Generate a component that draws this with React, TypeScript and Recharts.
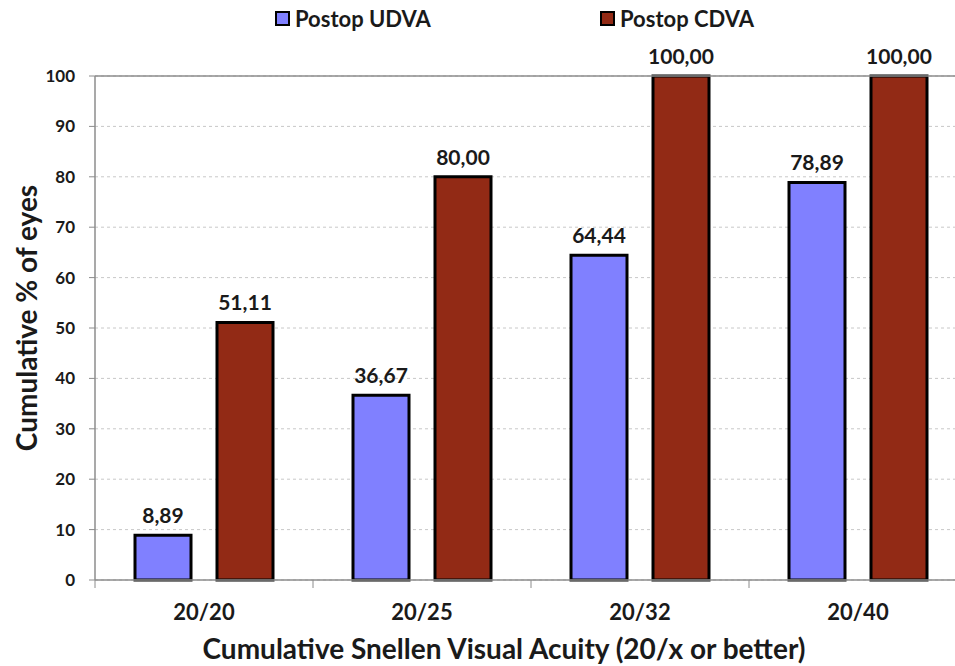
import React from "react";
import {
  BarChart,
  Bar,
  XAxis,
  YAxis,
  CartesianGrid,
  Legend,
  LabelList,
  ReferenceLine,
} from "recharts";

const categories = ["20/20", "20/25", "20/32", "20/40"];
const udva = [8.89, 36.67, 64.44, 78.89];
const cdva = [51.11, 80.0, 100.0, 100.0];
const yTicks = [0, 10, 20, 30, 40, 50, 60, 70, 80, 90, 100];

const data = categories.map((c, i) => ({ cat: c, udva: udva[i], cdva: cdva[i] }));

const BLUE = "#8080ff";
const RED = "#922a15";
const INK = "#1a1a1a";
const FONT = "Lato, 'Open Sans', sans-serif";

const CHART_W = 1000;
const CHART_H = 666;
const M = { top: 36, right: 33, left: 0, bottom: 0 };
const Y_W = 95;
const BAND = (CHART_W - M.left - M.right - Y_W) / categories.length;

const fmt = (v: any) => Number(v).toFixed(2).replace(".", ",");
const valueStyle = { fontSize: 21, fontWeight: 700, fill: INK, fontFamily: FONT };

// Excel-style tick: label at the band centre, tick marks on the band edges
function CatTick(props: any) {
  const { x, y, payload, index } = props;
  const top = y - 22;
  return (
    <g>
      <line x1={x - BAND / 2} x2={x - BAND / 2} y1={top} y2={top + 8} stroke="#8c8c8c" />
      {index === categories.length - 1 && (
        <line x1={x + BAND / 2} x2={x + BAND / 2} y1={top} y2={top + 8} stroke="#8c8c8c" />
      )}
      <text x={x} y={y} dy={18} textAnchor="middle" fontSize={22} fontWeight={700} fill={INK} fontFamily={FONT}>
        {payload.value}
      </text>
    </g>
  );
}

function LegendBox() {
  const item = (left: number, color: string, label: string) => (
    <div style={{ position: "absolute", left, top: 5, display: "flex", alignItems: "center" }}>
      <span style={{ width: 11, height: 11, background: color, border: "2.5px solid #000", marginRight: 5 }} />
      <span style={{ fontSize: 22, fontWeight: 700, color: INK, fontFamily: FONT }}>{label}</span>
    </div>
  );
  return (
    <div style={{ position: "relative", width: CHART_W, height: 40 }}>
      {item(275, BLUE, "Postop UDVA")}
      {item(600, RED, "Postop CDVA")}
    </div>
  );
}

export default function App() {
  return (
    <div style={{ position: "absolute", left: 0, top: 0, width: 955, height: 666, overflow: "hidden", background: "#fff" }}>
      <BarChart
        width={CHART_W}
        height={CHART_H}
        data={data}
        margin={M}
        barCategoryGap={40}
        barGap={26}
      >
        <Legend
          verticalAlign="top"
          align="left"
          content={() => <LegendBox />}
          wrapperStyle={{ left: 0, top: 0, width: CHART_W, height: 40 }}
        />
        <CartesianGrid vertical={false} stroke="#c8c8c8" strokeDasharray="3 3" />
        <ReferenceLine y={100} stroke="#8c8c8c" strokeWidth={1.5} />
        <XAxis
          dataKey="cat"
          height={86}
          axisLine={{ stroke: "#8c8c8c", strokeWidth: 1.5 }}
          tickLine={false}
          tickSize={8}
          tickMargin={14}
          tick={<CatTick />}
          interval={0}
          label={({ viewBox }: any) => (
            <text x={504} y={viewBox.y + 79} textAnchor="middle" fontSize={28} fontWeight={700} fill={INK} fontFamily={FONT}>
              Cumulative Snellen Visual Acuity (20/x or better)
            </text>
          )}
        />
        <YAxis
          width={Y_W}
          domain={[0, 100]}
          ticks={yTicks}
          interval={0}
          axisLine={{ stroke: "#8c8c8c", strokeWidth: 1.5 }}
          tickLine={{ stroke: "#8c8c8c" }}
          tickSize={6}
          tickMargin={14}
          tick={{ fontSize: 17, fontWeight: 700, fill: INK, fontFamily: FONT }}
          label={({ viewBox }: any) => {
            const cy = viewBox.y + viewBox.height / 2 - 10;
            return (
              <text x={37} y={cy} transform={`rotate(-90 37 ${cy})`} textAnchor="middle" fontSize={28} fontWeight={700} fill={INK} fontFamily={FONT}>
                Cumulative % of eyes
              </text>
            );
          }}
        />
        <Bar dataKey="udva" name="Postop UDVA" fill={BLUE} stroke="#000" strokeWidth={3} isAnimationActive={false}>
          <LabelList dataKey="udva" position="top" offset={12} formatter={fmt} style={valueStyle} />
        </Bar>
        <Bar dataKey="cdva" name="Postop CDVA" fill={RED} stroke="#000" strokeWidth={3} isAnimationActive={false}>
          <LabelList dataKey="cdva" position="top" offset={12} formatter={fmt} style={valueStyle} />
        </Bar>
      </BarChart>
    </div>
  );
}
